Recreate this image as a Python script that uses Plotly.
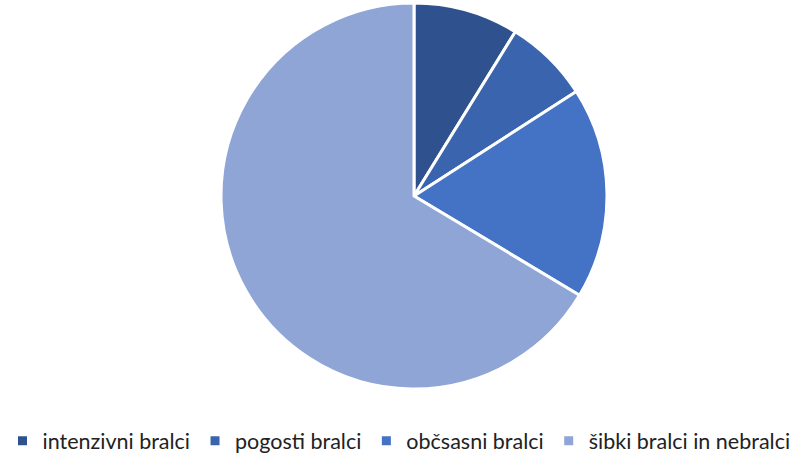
import plotly.graph_objects as go

labels = ["intenzivni bralci", "pogosti bralci", "občsasni bralci", "šibki bralci in nebralci"]
values = [8.8, 7.1, 17.7, 66.4]
colors = ["#2F528F", "#3A64AD", "#4472C4", "#8FA5D6"]

fig = go.Figure(go.Pie(
    labels=labels, values=values, sort=False, direction="clockwise", rotation=0,
    marker=dict(colors=colors, line=dict(color="white", width=3)),
    textinfo="none", hoverinfo="label+percent",
    domain=dict(x=[0.2769, 0.7607], y=[0.1451, 0.9934]),
))
fig.update_layout(
    width=798, height=455, margin=dict(l=0, r=0, t=0, b=0, autoexpand=False),
    paper_bgcolor="white", plot_bgcolor="white",
    font=dict(family="Lato, Carlito, sans-serif", size=21.5, color="#222222"),
    legend=dict(orientation="h", x=0.5, xanchor="center", y=0.031, yanchor="middle",
                font=dict(size=21.5), itemwidth=30, traceorder="normal"),
)
fig.write_html("out.html", config={"displayModeBar": False},
               post_script="document.body.style.margin='0';")
